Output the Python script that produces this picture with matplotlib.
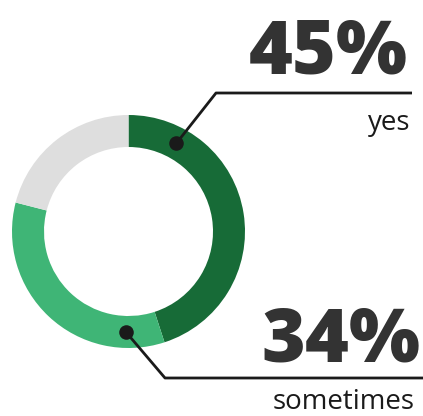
import numpy as np
import matplotlib.pyplot as plt

# survey answers, share in percent (clockwise from the top)
labels = ["yes", "sometimes", "no"]
values = [45, 34, 21]
colors = ["#176b37", "#3fb576", "#dedede"]

# which answers get a callout, and where the dot sits on the ring (deg clockwise from top)
callouts = ["yes", "sometimes"]
dot_angle = {"yes": 28.5, "sometimes": 181.5}

W, H = 423, 416
fig = plt.figure(figsize=(W / 100, H / 100), dpi=100)
ax = fig.add_axes([0, 0, 1, 1])
ax.set_xlim(0, W)
ax.set_ylim(0, H)
ax.set_aspect("equal")
ax.axis("off")

cx, cy = 128.5, H - 231.5
r_out, ring = 116.5, 32

ax.pie(values, colors=colors, startangle=90, counterclock=False,
       center=(cx, cy), radius=r_out,
       wedgeprops=dict(width=ring, linewidth=0))
ax.set_xlim(0, W)
ax.set_ylim(0, H)

r_mid = r_out - ring / 2
text_col = "#333333"

# callout geometry in pixels: (elbow, line end, big text pos, small text pos)
layout = {
    "yes": ((216, 93), (412, 93), (408, 73), (410, 130)),
    "sometimes": ((165, 378), (423, 378), (420, 362), (415, 409)),
}

for lab in callouts:
    v = values[labels.index(lab)]
    a = np.radians(dot_angle[lab])
    dx, dy = cx + r_mid * np.sin(a), cy + r_mid * np.cos(a)
    (ex, ey), (lx, ly), (bx, by), (sx, sy) = layout[lab]
    ax.plot([dx, ex, lx], [dy, H - ey, H - ly], color="#1a1a1a", lw=2,
            solid_capstyle="butt", zorder=3)
    ax.scatter([dx], [dy], s=110, color="#1a1a1a", zorder=4, linewidths=0)
    ax.text(bx, H - by, f"{v}%", ha="right", va="baseline", fontsize=54,
            fontweight="heavy", family="Open Sans", color=text_col)
    ax.text(sx, H - sy, lab, ha="right", va="baseline", fontsize=20,
            family="Open Sans", color="#1a1a1a")

fig.savefig("out.png", dpi=100, facecolor="white")
